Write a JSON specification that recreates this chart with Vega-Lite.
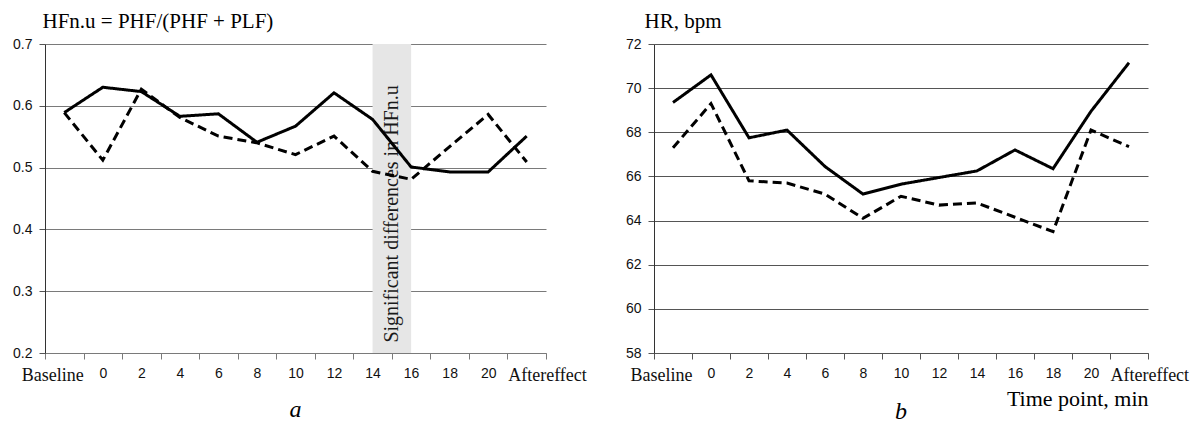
{
  "$schema": "https://vega.github.io/schema/vega-lite/v6.json",
  "background": "white",
  "padding": {"left": 12, "top": 10, "right": 5, "bottom": 0},
  "bounds": "flush",
  "spacing": 108,
  "config": {"view": {"stroke": null}, "font": "Liberation Serif"},
  "hconcat": [
    {
      "width": 501,
      "height": 309,
      "title": {"text": "a", "orient": "bottom", "anchor": "middle", "frame": "group", "font": "Liberation Serif", "fontSize": 24, "fontStyle": "italic", "fontWeight": "normal", "color": "#000", "offset": 14},
      "resolve": {"scale": {"x": "independent"}},
      "data": {"values": [
        {"time": "Baseline", "idx": 0, "series": "Series 1", "value": 0.589},
        {"time": "0", "idx": 1, "series": "Series 1", "value": 0.630},
        {"time": "2", "idx": 2, "series": "Series 1", "value": 0.623},
        {"time": "4", "idx": 3, "series": "Series 1", "value": 0.583},
        {"time": "6", "idx": 4, "series": "Series 1", "value": 0.587},
        {"time": "8", "idx": 5, "series": "Series 1", "value": 0.541},
        {"time": "10", "idx": 6, "series": "Series 1", "value": 0.567},
        {"time": "12", "idx": 7, "series": "Series 1", "value": 0.621},
        {"time": "14", "idx": 8, "series": "Series 1", "value": 0.578},
        {"time": "16", "idx": 9, "series": "Series 1", "value": 0.501},
        {"time": "18", "idx": 10, "series": "Series 1", "value": 0.493},
        {"time": "20", "idx": 11, "series": "Series 1", "value": 0.493},
        {"time": "Aftereffect", "idx": 12, "series": "Series 1", "value": 0.551},
        {"time": "Baseline", "idx": 0, "series": "Series 2", "value": 0.589},
        {"time": "0", "idx": 1, "series": "Series 2", "value": 0.512},
        {"time": "2", "idx": 2, "series": "Series 2", "value": 0.627},
        {"time": "4", "idx": 3, "series": "Series 2", "value": 0.581},
        {"time": "6", "idx": 4, "series": "Series 2", "value": 0.551},
        {"time": "8", "idx": 5, "series": "Series 2", "value": 0.540},
        {"time": "10", "idx": 6, "series": "Series 2", "value": 0.521},
        {"time": "12", "idx": 7, "series": "Series 2", "value": 0.551},
        {"time": "14", "idx": 8, "series": "Series 2", "value": 0.494},
        {"time": "16", "idx": 9, "series": "Series 2", "value": 0.481},
        {"time": "18", "idx": 10, "series": "Series 2", "value": 0.534},
        {"time": "20", "idx": 11, "series": "Series 2", "value": 0.586},
        {"time": "Aftereffect", "idx": 12, "series": "Series 2", "value": 0.509}
      ]},
      "layer": [
        {
          "mark": {"type": "point", "opacity": 0},
          "encoding": {
            "x": {
              "field": "time", "type": "nominal", "sort": null,
              "scale": {"type": "band", "paddingInner": 0, "paddingOuter": 0},
              "axis": {
                "title": null, "tickBand": "extent", "grid": false, "labelAngle": 0,
                "domain": true, "domainColor": "#7a7a7a", "tickColor": "#7a7a7a", "tickSize": 6,
                "labelPadding": 7, "labelColor": "#111",
                "labelFont": {"condition": {"test": "datum.value === 'Baseline' || datum.value === 'Aftereffect'", "value": "Liberation Serif"}, "value": "Liberation Sans"},
                "labelFontSize": {"condition": {"test": "datum.value === 'Baseline' || datum.value === 'Aftereffect'", "value": 18}, "value": 14},
                "labelAlign": {"condition": [{"test": "datum.value === 'Baseline'", "value": "right"}, {"test": "datum.value === 'Aftereffect'", "value": "left"}], "value": "center"},
                "labelOffset": {"condition": [{"test": "datum.value === 'Baseline'", "value": 19}, {"test": "datum.value === 'Aftereffect'", "value": -19}], "value": 0}
              }
            }
          }
        },
        {
          "data": {"values": [{}]},
          "mark": {"type": "rect", "color": "#e6e6e6"},
          "encoding": {
            "x": {"datum": 8, "type": "quantitative", "scale": {"domain": [-0.5, 12.5], "nice": false, "zero": false}, "axis": null},
            "x2": {"datum": 9},
            "y": {"datum": 0.7, "type": "quantitative", "scale": {"domain": [0.2, 0.7], "nice": false, "zero": false}},
            "y2": {"datum": 0.2}
          }
        },
        {
          "data": {"values": [{"note": "Significant differences in HFn.u"}]},
          "mark": {"type": "text", "angle": 270, "font": "Liberation Serif", "fontSize": 20, "color": "#1a1a1a", "align": "center", "baseline": "middle"},
          "encoding": {
            "x": {"datum": 8.5, "type": "quantitative", "scale": {"domain": [-0.5, 12.5], "nice": false, "zero": false}, "axis": null},
            "y": {"datum": 0.425, "type": "quantitative"},
            "text": {"field": "note"}
          }
        },
        {
          "mark": {"type": "line", "strokeWidth": 3, "color": "#000", "strokeJoin": "miter"},
          "encoding": {
            "x": {"field": "idx", "type": "quantitative", "scale": {"domain": [-0.5, 12.5], "nice": false, "zero": false}, "axis": null},
            "y": {
              "field": "value", "type": "quantitative",
              "scale": {"domain": [0.2, 0.7], "nice": false, "zero": false},
              "axis": {
                "values": [0.2, 0.25, 0.3, 0.35, 0.4, 0.45, 0.5, 0.55, 0.6, 0.65, 0.7],
                "labelExpr": "round(datum.value * 100) % 10 === 0 ? format(datum.value, '.1f') : ''",
                "grid": true, "gridColor": "#7a7a7a", "gridWidth": 1,
                "domainColor": "#333", "tickColor": "#555", "tickSize": 6,
                "labelFont": "Liberation Sans", "labelFontSize": 14, "labelColor": "#111", "labelPadding": 7,
                "title": "HFn.u = PHF/(PHF + PLF)", "titleAngle": 0, "titleX": -3, "titleY": -17,
                "titleAlign": "left", "titleBaseline": "alphabetic",
                "titleFont": "Liberation Serif", "titleFontSize": 21, "titleFontWeight": "normal", "titleColor": "#000"
              }
            },
            "strokeDash": {"field": "series", "type": "nominal", "scale": {"domain": ["Series 1", "Series 2"], "range": [[1, 0], [9, 5]]}, "legend": null}
          }
        }
      ]
    },
    {
      "width": 494,
      "height": 309,
      "title": {"text": "b", "orient": "bottom", "anchor": "middle", "frame": "group", "font": "Liberation Serif", "fontSize": 24, "fontStyle": "italic", "fontWeight": "normal", "color": "#000", "offset": -9},
      "resolve": {"scale": {"x": "independent"}},
      "data": {"values": [
        {"time": "Baseline", "idx": 0, "series": "Series 1", "value": 69.35},
        {"time": "0", "idx": 1, "series": "Series 1", "value": 70.6},
        {"time": "2", "idx": 2, "series": "Series 1", "value": 67.75},
        {"time": "4", "idx": 3, "series": "Series 1", "value": 68.1},
        {"time": "6", "idx": 4, "series": "Series 1", "value": 66.45},
        {"time": "8", "idx": 5, "series": "Series 1", "value": 65.2},
        {"time": "10", "idx": 6, "series": "Series 1", "value": 65.65},
        {"time": "12", "idx": 7, "series": "Series 1", "value": 65.95},
        {"time": "14", "idx": 8, "series": "Series 1", "value": 66.25},
        {"time": "16", "idx": 9, "series": "Series 1", "value": 67.2},
        {"time": "18", "idx": 10, "series": "Series 1", "value": 66.35},
        {"time": "20", "idx": 11, "series": "Series 1", "value": 68.95},
        {"time": "Aftereffect", "idx": 12, "series": "Series 1", "value": 71.15},
        {"time": "Baseline", "idx": 0, "series": "Series 2", "value": 67.3},
        {"time": "0", "idx": 1, "series": "Series 2", "value": 69.3},
        {"time": "2", "idx": 2, "series": "Series 2", "value": 65.8},
        {"time": "4", "idx": 3, "series": "Series 2", "value": 65.7},
        {"time": "6", "idx": 4, "series": "Series 2", "value": 65.2},
        {"time": "8", "idx": 5, "series": "Series 2", "value": 64.1},
        {"time": "10", "idx": 6, "series": "Series 2", "value": 65.1},
        {"time": "12", "idx": 7, "series": "Series 2", "value": 64.7},
        {"time": "14", "idx": 8, "series": "Series 2", "value": 64.8},
        {"time": "16", "idx": 9, "series": "Series 2", "value": 64.15},
        {"time": "18", "idx": 10, "series": "Series 2", "value": 63.5},
        {"time": "20", "idx": 11, "series": "Series 2", "value": 68.1},
        {"time": "Aftereffect", "idx": 12, "series": "Series 2", "value": 67.35}
      ]},
      "layer": [
        {
          "mark": {"type": "point", "opacity": 0},
          "encoding": {
            "x": {
              "field": "time", "type": "nominal", "sort": null,
              "scale": {"type": "band", "paddingInner": 0, "paddingOuter": 0},
              "axis": {
                "title": "Time point, min", "titleAnchor": "end", "titleAlign": "right",
                "titleFont": "Liberation Serif", "titleFontSize": 22, "titleFontWeight": "normal", "titleColor": "#000", "titlePadding": 4,
                "tickBand": "extent", "grid": false, "labelAngle": 0,
                "domain": true, "domainColor": "#555", "tickColor": "#555", "tickSize": 6,
                "labelPadding": 7, "labelColor": "#111",
                "labelFont": {"condition": {"test": "datum.value === 'Baseline' || datum.value === 'Aftereffect'", "value": "Liberation Serif"}, "value": "Liberation Sans"},
                "labelFontSize": {"condition": {"test": "datum.value === 'Baseline' || datum.value === 'Aftereffect'", "value": 18}, "value": 14},
                "labelAlign": {"condition": [{"test": "datum.value === 'Baseline'", "value": "right"}, {"test": "datum.value === 'Aftereffect'", "value": "left"}], "value": "center"},
                "labelOffset": {"condition": [{"test": "datum.value === 'Baseline'", "value": 19}, {"test": "datum.value === 'Aftereffect'", "value": -19}], "value": 0}
              }
            }
          }
        },
        {
          "mark": {"type": "line", "strokeWidth": 3, "color": "#000", "strokeJoin": "miter"},
          "encoding": {
            "x": {"field": "idx", "type": "quantitative", "scale": {"domain": [-0.5, 12.5], "nice": false, "zero": false}, "axis": null},
            "y": {
              "field": "value", "type": "quantitative",
              "scale": {"domain": [58, 72], "nice": false, "zero": false},
              "axis": {
                "values": [58, 60, 62, 64, 66, 68, 70, 72],
                "grid": true, "gridColor": "#555", "gridWidth": 1,
                "domainColor": "#333", "tickColor": "#555", "tickSize": 6,
                "labelFont": "Liberation Sans", "labelFontSize": 14, "labelColor": "#111", "labelPadding": 7,
                "title": "HR, bpm", "titleAngle": 0, "titleX": -10, "titleY": -17,
                "titleAlign": "left", "titleBaseline": "alphabetic",
                "titleFont": "Liberation Serif", "titleFontSize": 21, "titleFontWeight": "normal", "titleColor": "#000"
              }
            },
            "strokeDash": {"field": "series", "type": "nominal", "scale": {"domain": ["Series 1", "Series 2"], "range": [[1, 0], [9, 5]]}, "legend": null}
          }
        }
      ]
    }
  ]
}
